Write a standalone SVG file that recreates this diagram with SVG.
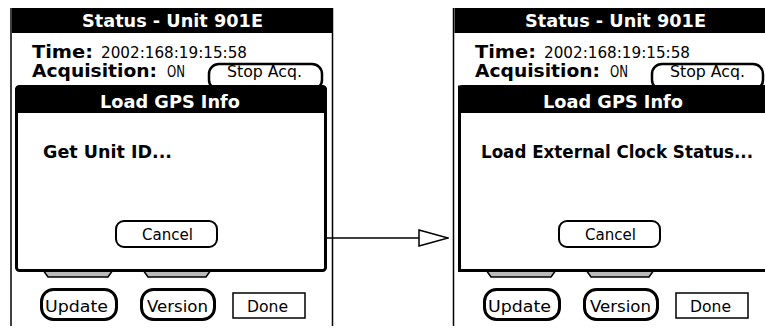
<svg xmlns="http://www.w3.org/2000/svg" width="765" height="329" viewBox="0 0 765 329">
<defs>
<style>
.frame{stroke:#000;stroke-width:1.5;fill:none}
.bar{fill:#000}
.tb{font-family:"DejaVu Sans",sans-serif;font-weight:bold;fill:#000}
.tw{font-family:"DejaVu Sans",sans-serif;font-weight:bold;fill:#fff}
.tr{font-family:"DejaVu Sans",sans-serif;font-weight:normal;fill:#000;font-size:16px}
.dlg{fill:#fff;stroke:#000;stroke-width:3}
.rbtn{fill:#fff;stroke:#000;stroke-width:3}
.cbtn{fill:#fff;stroke:#000;stroke-width:2}
.sbtn{fill:#fff;stroke:#000;stroke-width:2.5}
.done{fill:#fff;stroke:#000;stroke-width:1.5}
.tab{fill:#bbb;stroke:#000;stroke-width:1.5}
.conn{stroke:#000;stroke-width:1.5;fill:none}
</style>
<marker id="arrow" viewBox="0 0 31 18" refX="30" refY="9" markerWidth="31" markerHeight="18" markerUnits="userSpaceOnUse" orient="auto">
<path d="M1,1 L30,9 L1,17 Z" fill="#fff" stroke="#000" stroke-width="1.5"/>
</marker>
</defs>
<rect width="765" height="329" fill="#fff"/>

<g id="screen1">
<line class="frame" x1="11" y1="8" x2="11" y2="326"/>
<line class="frame" x1="332.5" y1="8" x2="332.5" y2="326"/>
<rect class="bar" x="12" y="8" width="320" height="25"/>
<text class="tw" x="172.5" y="27" font-size="18" text-anchor="middle" textLength="181" lengthAdjust="spacingAndGlyphs">Status - Unit 901E</text>
<text class="tb" x="32" y="58" font-size="18" textLength="61" lengthAdjust="spacingAndGlyphs">Time:</text>
<text class="tr" x="101" y="58" textLength="146" lengthAdjust="spacingAndGlyphs">2002:168:19:15:58</text>
<text class="tb" x="32" y="77" font-size="18" textLength="125" lengthAdjust="spacingAndGlyphs">Acquisition:</text>
<text class="tr" x="167" y="77" textLength="18" lengthAdjust="spacingAndGlyphs">ON</text>
<rect class="sbtn" x="209" y="64" width="113" height="26" rx="10"/>
<text class="tr" x="227" y="77" textLength="75" lengthAdjust="spacingAndGlyphs">Stop Acq.</text>
<path class="tab" d="M43,270 L113,270 L108,277 L48,277 Z"/>
<path class="tab" d="M143,270 L211,270 L206,277 L148,277 Z"/>
<rect class="dlg" x="16.5" y="87" width="309" height="183.5" rx="3"/>
<path class="bar" d="M15,113 L15,90 Q15,85 20,85 L322,85 Q327,85 327,90 L327,113 Z"/>
<text class="tw" x="100" y="108" font-size="18" textLength="140" lengthAdjust="spacingAndGlyphs">Load GPS Info</text>
<text class="tb" x="43" y="158" font-size="17.5" textLength="129" lengthAdjust="spacingAndGlyphs">Get Unit ID...</text>
<rect class="cbtn" x="116" y="221" width="101" height="26" rx="8"/>
<text class="tr" x="142" y="240" textLength="51" lengthAdjust="spacingAndGlyphs">Cancel</text>
<rect class="rbtn" x="41.5" y="289.5" width="75" height="30" rx="12"/>
<text class="tr" x="45" y="312" textLength="63" lengthAdjust="spacingAndGlyphs">Update</text>
<rect class="rbtn" x="141.5" y="289.5" width="73" height="30" rx="12"/>
<text class="tr" x="147" y="312" textLength="61" lengthAdjust="spacingAndGlyphs">Version</text>
<rect class="done" x="233" y="293" width="72" height="25"/>
<text class="tr" x="247" y="312" textLength="41" lengthAdjust="spacingAndGlyphs">Done</text>
</g>

<g id="screen2" transform="translate(443,0)">
<line class="frame" x1="10.5" y1="8" x2="10.5" y2="326"/>
<rect class="bar" x="11.5" y="8" width="310.5" height="25"/>
<text class="tw" x="172.5" y="27" font-size="18" text-anchor="middle" textLength="181" lengthAdjust="spacingAndGlyphs">Status - Unit 901E</text>
<text class="tb" x="32" y="58" font-size="18" textLength="61" lengthAdjust="spacingAndGlyphs">Time:</text>
<text class="tr" x="101" y="58" textLength="146" lengthAdjust="spacingAndGlyphs">2002:168:19:15:58</text>
<text class="tb" x="32" y="77" font-size="18" textLength="125" lengthAdjust="spacingAndGlyphs">Acquisition:</text>
<text class="tr" x="167" y="77" textLength="18" lengthAdjust="spacingAndGlyphs">ON</text>
<rect class="sbtn" x="209" y="64" width="111" height="26" rx="10"/>
<text class="tr" x="227" y="77" textLength="75" lengthAdjust="spacingAndGlyphs">Stop Acq.</text>
<path class="tab" d="M43,270 L113,270 L108,277 L48,277 Z"/>
<path class="tab" d="M143,270 L211,270 L206,277 L148,277 Z"/>
<rect class="dlg" x="16.5" y="87" width="315" height="183.5"/>
<path class="bar" d="M15,113 L15,90 Q15,85 20,85 L322,85 L322,113 Z"/>
<text class="tw" x="100" y="108" font-size="18" textLength="140" lengthAdjust="spacingAndGlyphs">Load GPS Info</text>
<text class="tb" x="38" y="158" font-size="17" textLength="272" lengthAdjust="spacingAndGlyphs">Load External Clock Status...</text>
<rect class="cbtn" x="116" y="221" width="101" height="26" rx="8"/>
<text class="tr" x="142" y="240" textLength="51" lengthAdjust="spacingAndGlyphs">Cancel</text>
<rect class="rbtn" x="41.5" y="289.5" width="75" height="30" rx="12"/>
<text class="tr" x="45" y="312" textLength="63" lengthAdjust="spacingAndGlyphs">Update</text>
<rect class="rbtn" x="141.5" y="289.5" width="73" height="30" rx="12"/>
<text class="tr" x="147" y="312" textLength="61" lengthAdjust="spacingAndGlyphs">Version</text>
<rect class="done" x="233" y="293" width="72" height="25"/>
<text class="tr" x="247" y="312" textLength="41" lengthAdjust="spacingAndGlyphs">Done</text>
</g>

<g id="connectors">
<line class="conn" x1="327" y1="238" x2="448" y2="238" marker-end="url(#arrow)"/>
</g>
</svg>
